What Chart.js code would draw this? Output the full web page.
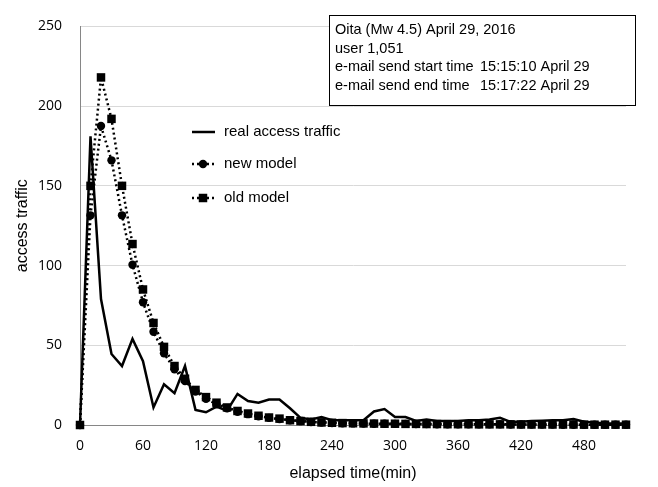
<!DOCTYPE html>
<html>
<head>
<meta charset="utf-8">
<script src="https://cdn.jsdelivr.net/npm/chart.js@4"></script>
<style>
  html, body { margin: 0; padding: 0; background: #fff; }
  #wrap { width: 658px; height: 487px; }
</style>
</head>
<body>
<div id="wrap"><canvas id="chart" width="658" height="487"></canvas></div>
<script>
// elapsed minutes since the e-mail was sent
const minutes = [0, 10, 20, 30, 40, 50, 60, 70, 80, 90, 100, 110, 120, 130, 140, 150, 160, 170, 180, 190,
  200, 210, 220, 230, 240, 250, 260, 270, 280, 290, 300, 310, 320, 330, 340, 350, 360, 370, 380, 390,
  400, 410, 420, 430, 440, 450, 460, 470, 480, 490, 500, 510, 520];

const realTraffic = [0, 181, 79, 44.5, 37, 54, 40, 11, 25.5, 20, 37, 9.5, 8, 11.5, 9, 19.5, 15, 14, 16, 16,
  10.5, 4.5, 3.5, 5, 3, 3, 3, 3, 8.5, 10, 5, 5, 2.5, 3.5, 2.5, 2.5, 2.5, 3, 3, 3.5,
  4.5, 2, 2, 2.5, 2.7, 3, 3, 3.7, 2, 1.5, 1, 1, 1];

const newModel = [0, 131.5, 187.5, 166, 131.5, 100.5, 77, 58.5, 45, 35, 27.5, 21, 16.5, 13, 10.5, 8.3, 6.8, 5.5, 4.5, 3.7,
  3, 2.4, 1.9, 1.5, 1.3, 1.1, 1, 0.9, 0.8, 0.8, 0.7, 0.7, 0.6, 0.6, 0.5, 0.5, 0.5, 0.4, 0.4, 0.4,
  0.4, 0.3, 0.3, 0.3, 0.3, 0.3, 0.2, 0.2, 0.2, 0.2, 0.2, 0.2, 0.2];

const oldModel = [0, 150, 218, 192, 150, 113.5, 85, 64, 49, 37, 29, 22, 17.5, 14, 11, 8.8, 7.2, 5.8, 4.7, 4,
  3, 2.5, 2, 1.6, 1.4, 1.2, 1.1, 1, 0.9, 0.8, 0.8, 0.7, 0.7, 0.6, 0.6, 0.5, 0.5, 0.5, 0.4, 0.4,
  0.4, 0.4, 0.3, 0.3, 0.3, 0.3, 0.3, 0.3, 0.2, 0.2, 0.2, 0.2, 0.2];

const seriesNames = ['real access traffic', 'new model', 'old model'];

const infoLabels = ['Oita (Mw 4.5) April 29, 2016', 'user 1,051', 'e-mail send start time', 'e-mail send end time'];
const infoTimes = ['', '', '15:15:10 April 29', '15:17:22 April 29'];

const pts = arr => arr.map((v, i) => ({x: minutes[i], y: v}));

// legend + info box drawn inside the plot
const overlay = {
  id: 'overlay',
  afterDraw(chart) {
    const ctx = chart.ctx;
    ctx.save();
    const rows = [132, 164, 198];
    chart.data.datasets.forEach((ds, i) => {
      const y = rows[i];
      ctx.strokeStyle = '#000';
      ctx.lineWidth = ds.borderWidth;
      ctx.setLineDash(ds.borderDash || []);
      ctx.beginPath();
      ctx.moveTo(192, y);
      ctx.lineTo(215, y);
      ctx.stroke();
      ctx.setLineDash([]);
      ctx.fillStyle = '#000';
      if (ds.pointStyle === 'circle') {
        ctx.beginPath();
        ctx.arc(203, y, ds.pointRadius, 0, Math.PI * 2);
        ctx.fill();
      } else if (ds.pointStyle === 'rect') {
        const s = ds.pointRadius * Math.SQRT1_2;
        ctx.fillRect(203 - s, y - s, 2 * s, 2 * s);
      }
      ctx.font = '15px "Liberation Sans", Arial, sans-serif';
      ctx.textBaseline = 'middle';
      ctx.textAlign = 'left';
      ctx.fillText(ds.label, 224, y);
    });

    ctx.fillStyle = '#fff';
    ctx.fillRect(329, 15, 307, 91);
    ctx.strokeStyle = '#000';
    ctx.lineWidth = 1;
    ctx.strokeRect(329.5, 15.5, 306, 90);
    ctx.fillStyle = '#000';
    ctx.font = '14.5px "Liberation Sans", Arial, sans-serif';
    ctx.textBaseline = 'middle';
    infoLabels.forEach((t, i) => {
      const y = 30 + i * 18.7;
      ctx.fillText(t, 335, y);
      if (infoTimes[i]) ctx.fillText(infoTimes[i], 480, y);
    });
    ctx.restore();
  }
};

const tickFont = {family: '"Open Sans", sans-serif', size: 14};
const titleFont = {family: '"Liberation Sans", Arial, sans-serif', size: 16};

new Chart(document.getElementById('chart'), {
  type: 'line',
  data: {
    datasets: [
      {
        label: seriesNames[0], data: pts(realTraffic),
        borderColor: '#000', backgroundColor: '#000', borderWidth: 2.5,
        pointRadius: 0, tension: 0, order: 0, clip: false
      },
      {
        label: seriesNames[1], data: pts(newModel),
        borderColor: '#000', backgroundColor: '#000', borderWidth: 2.5, borderDash: [2, 3],
        pointStyle: 'circle', pointRadius: 4.2, pointBorderWidth: 0, tension: 0, order: 2, clip: false
      },
      {
        label: seriesNames[2], data: pts(oldModel),
        borderColor: '#000', backgroundColor: '#000', borderWidth: 2.5, borderDash: [2, 3],
        pointStyle: 'rect', pointRadius: 6, pointBorderWidth: 0, tension: 0, order: 1, clip: false
      }
    ]
  },
  options: {
    responsive: false,
    animation: false,
    devicePixelRatio: 1,
    layout: {padding: {top: 17, right: 32, left: 0, bottom: 0}},
    plugins: {
      legend: {display: false},
      tooltip: {enabled: false}
    },
    scales: {
      x: {
        type: 'linear', min: 0, max: 520,
        ticks: {stepSize: 60, includeBounds: false, padding: 13, maxRotation: 0, color: '#000', font: tickFont},
        grid: {display: false, drawTicks: false},
        border: {display: true, color: '#868686', width: 1},
        title: {display: true, text: 'elapsed time(min)', color: '#000', font: titleFont, padding: {top: 0, bottom: 4}},
        afterFit(s) { s.height = 62; }
      },
      y: {
        min: 0, max: 250,
        ticks: {stepSize: 50, padding: 18, color: '#000', font: tickFont},
        grid: {color: '#d9d9d9', drawTicks: false},
        border: {display: true, color: '#868686', width: 1},
        title: {display: true, text: 'access traffic', color: '#000', font: titleFont, padding: {top: 13, bottom: 0}},
        afterFit(s) { s.width = 80; }
      }
    }
  },
  plugins: [overlay]
});
</script>
</body>
</html>
